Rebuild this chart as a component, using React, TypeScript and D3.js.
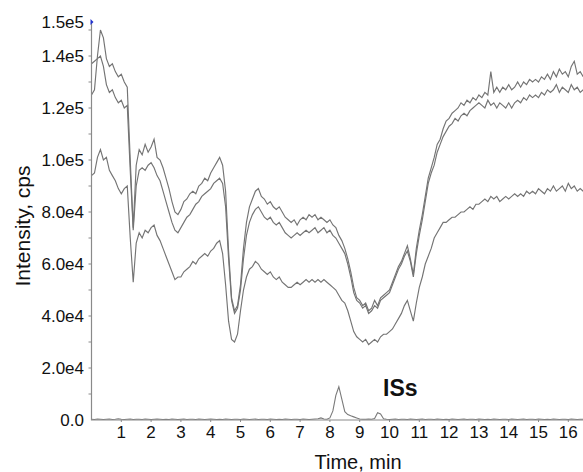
import React from 'react';
import * as d3 from 'd3';

// time grid, min (0.0 .. 16.5)
const times = d3.range(0, 166).map((i) => i / 10);

// intensities in thousands of cps
const traceA = [
  125, 127, 140, 150, 147, 139, 136, 137, 134, 132,
  133, 130, 128, 100, 74, 98, 104, 102, 106, 103,
  105, 108, 101, 100, 97, 93, 89, 84, 80, 79,
  81, 84, 85, 87, 88, 87, 90, 91, 93, 92,
  95, 97, 99, 101, 98, 88, 65, 47, 42, 44,
  52, 66, 76, 82, 85, 88, 89, 86, 85, 83,
  84, 82, 81, 82, 80, 78, 77, 76, 77, 75,
  77, 78, 77, 79, 78, 79, 77, 78, 77, 76,
  77, 75, 74, 71, 69, 66, 62, 57, 51, 47,
  46, 44, 45, 42, 43, 46, 44, 47, 48, 49,
  50, 53, 56, 59, 61, 64, 67, 62, 56, 66,
  73, 79, 86, 93, 97, 101, 106, 108, 112, 115,
  116, 118, 119, 120, 122, 121, 123, 122, 124, 123,
  125, 124, 126, 125, 134, 126, 128, 126, 128, 127,
  129, 127, 128, 130, 128, 130, 129, 131, 130, 131,
  130, 132, 131, 133, 131, 134, 132, 135, 133, 134,
  132, 136, 138, 133, 134, 132,
];

const traceB = [
  137, 138, 139, 140, 136, 129, 126, 127, 124, 122,
  123, 120, 121, 96, 73, 90, 96, 97, 96, 98,
  99, 97, 94, 92, 88, 84, 80, 76, 73, 72,
  74, 76, 78, 79, 81, 83, 84, 86, 87, 88,
  89, 91, 92, 93, 91, 82, 62, 46, 41, 43,
  50, 62, 71, 76, 79, 81, 82, 80, 78, 77,
  78, 76, 75, 76, 74, 72, 71, 70, 71, 72,
  71, 72, 73, 72, 73, 74, 72, 73, 74, 72,
  73, 71, 70, 68, 66, 64, 60, 55, 49, 46,
  45, 43, 44, 41, 42, 44, 43, 46, 47, 48,
  49, 52, 55, 58, 60, 63, 65, 61, 55, 64,
  71, 77, 84, 91, 95, 98, 103, 106, 109, 111,
  113, 114, 116, 115, 117, 118, 117, 119, 120, 121,
  122, 121, 120, 123, 121, 122, 120, 122, 121, 120,
  122, 120, 122, 123, 122, 124, 123, 125, 124, 125,
  124, 126, 125, 127, 126, 127, 129, 126, 128, 127,
  126, 129, 127, 128, 126, 127,
];

const traceC = [
  94, 95, 101, 104, 100, 101, 96, 94, 92, 89,
  87, 89, 90, 70, 53, 68, 72, 70, 73, 72,
  74, 75, 71, 69, 66, 63, 60, 57, 54, 55,
  55, 57, 58, 59, 61, 60, 62, 63, 64, 63,
  65, 66, 68, 69, 64, 52, 38, 31, 30, 33,
  42, 50, 55, 58, 59, 61, 60, 58, 57, 56,
  57, 55, 54, 55, 53, 52, 51, 51, 52, 53,
  52, 53, 54, 53, 54, 53, 54, 53, 54, 53,
  52, 51, 50, 48, 46, 45, 42, 38, 34, 32,
  31, 30, 31, 29, 30, 31, 30, 32, 33, 33,
  34, 35, 37, 39, 41, 44, 46, 42, 38, 45,
  51, 55, 60, 63, 66, 70, 72, 74, 76, 76,
  77, 78, 78, 79, 80, 80, 81, 82, 81, 83,
  83, 84, 85, 84, 86, 85, 86, 84, 85, 86,
  85, 86, 87, 86, 87, 86, 88, 87, 88, 87,
  89, 88, 87, 89, 88, 90, 88, 89, 90, 88,
  91, 89, 90, 88, 89, 88,
];

// internal standards trace
const traceIS = [
  0.3, 0.2, 0.4, 0.3, 0.2, 0.3, 0.4, 0.2, 0.3, 0.5,
  0.3, 0.2, 0.3, 0.4, 0.2, 0.3, 0.3, 0.2, 0.4, 0.3,
  0.2, 0.3, 0.4, 0.3, 0.2, 0.3, 0.2, 0.4, 0.3, 0.2,
  0.3, 0.4, 0.2, 0.3, 0.3, 0.2, 0.4, 0.3, 0.2, 0.3,
  0.4, 0.3, 0.2, 0.3, 0.2, 0.4, 0.3, 0.2, 0.3, 0.3,
  0.2, 0.4, 0.3, 0.2, 0.3, 0.4, 0.2, 0.3, 0.3, 0.2,
  0.4, 0.3, 0.2, 0.3, 0.2, 0.4, 0.3, 0.2, 0.3, 0.3,
  0.2, 0.4, 0.3, 0.2, 0.3, 0.4, 0.5, 0.8, 0.4, 0.3,
  0.8, 3.5, 9.5, 12.8, 8.0, 3.2, 2.1, 1.6, 1.2, 0.8,
  0.4, 0.3, 0.3, 0.4, 0.3, 0.6, 2.8, 2.3, 0.5, 0.3,
  0.2, 0.3, 0.4, 0.2, 0.3, 0.3, 0.2, 0.4, 0.3, 0.2,
  0.3, 0.4, 0.2, 0.3, 0.3, 0.2, 0.4, 0.3, 0.2, 0.3,
  0.2, 0.4, 0.3, 0.2, 0.3, 0.4, 0.2, 0.3, 0.3, 0.2,
  0.4, 0.3, 0.2, 0.3, 0.2, 0.4, 0.3, 0.2, 0.3, 0.3,
  0.2, 0.4, 0.3, 0.2, 0.3, 0.4, 0.2, 0.3, 0.3, 0.2,
  0.4, 0.3, 0.2, 0.3, 0.2, 0.4, 0.3, 0.2, 0.3, 0.3,
  0.2, 0.4, 0.3, 0.2, 0.3, 0.3,
];

const xTicks = [1, 2, 3, 4, 5, 6, 7, 8, 9, 10, 11, 12, 13, 14, 15, 16];
const yTicks = [0, 20000, 40000, 60000, 80000, 100000, 120000, 140000];
const yTickLabels = ['0.0', '2.0e4', '4.0e4', '6.0e4', '8.0e4', '1.0e5', '1.2e5', '1.4e5'];
const yMinorTicks = d3.range(10000, 160000, 10000);
const yMaxLabel = '1.5e5';

const font = '"Liberation Sans", Arial, sans-serif';
const ink = '#747474';

function App() {
  const width = 583;
  const height = 472;
  const left = 91.5;
  const right = 583.2;
  const top = 22;
  const bottom = 420;

  const xScale = d3.scaleLinear().domain([0, 16.5]).range([left, right]);
  const yScale = d3.scaleLinear().domain([0, 153077]).range([bottom, top]);

  const line = d3
    .line<number>()
    .x((_, i) => xScale(times[i]))
    .y((v) => yScale(v * 1000));

  const traces = [traceC, traceB, traceA];

  return (
    <svg
      width={width}
      height={height}
      style={{ position: 'absolute', left: 0, top: 0, background: '#fff' }}
      fontFamily={font}
    >
      <g className="vis">
        {traces.map((t, i) => (
          <path key={i} d={line(t) || ''} fill="none" stroke={ink} strokeWidth={1.15} />
        ))}
        <path d={line(traceIS) || ''} fill="none" stroke="#7a7a7a" strokeWidth={1.1} />
      </g>

      <g className="axes">
        <path d={`M ${left} ${top} V ${bottom} H ${right}`} fill="none" stroke="#8a8a8a" strokeWidth={1.2} />
        {yMinorTicks.map((v) => (
          <line key={v} x1={left - 3} x2={left} y1={yScale(v)} y2={yScale(v)} stroke="#8a8a8a" />
        ))}
        {yTicks.map((v, i) => (
          <text key={v} x={84} y={yScale(v)} dy="0.36em" textAnchor="end" fontSize={17} fill="#111">
            {yTickLabels[i]}
          </text>
        ))}
        <text x={84} y={top} dy="0.36em" textAnchor="end" fontSize={17} fill="#111">
          {yMaxLabel}
        </text>
        <path d={`M ${left - 1} ${top - 3} l 3 3 l -3 3 z`} fill="#2233cc" />
        {xTicks.map((t) => (
          <g key={t} transform={`translate(${xScale(t)} ${bottom})`}>
            <line y1={0} y2={2} stroke="#8a8a8a" />
            <text y={18} textAnchor="middle" fontSize={17} fill="#111">
              {t}
            </text>
          </g>
        ))}
        <text x={358} y={469} textAnchor="middle" fontSize={20} fill="#111">
          Time, min
        </text>
        <text
          transform={`translate(30 ${226}) rotate(-90)`}
          textAnchor="middle"
          fontSize={21}
          fill="#111"
        >
          Intensity, cps
        </text>
        <text x={383} y={396} fontSize={23} fontWeight="bold" fill="#111">
          ISs
        </text>
      </g>
    </svg>
  );
}

export default App;
